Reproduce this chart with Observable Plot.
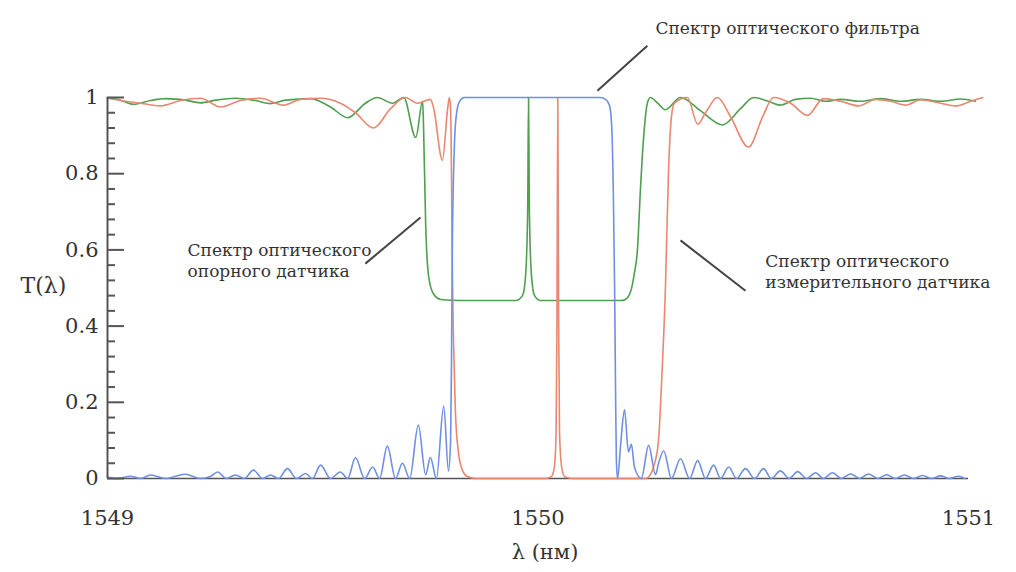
<!DOCTYPE html>
<html><head><meta charset="utf-8">
<script src="https://cdn.jsdelivr.net/npm/d3@7"></script>
<script src="https://cdn.jsdelivr.net/npm/@observablehq/plot@0.6"></script>
<style>html,body{margin:0;padding:0;background:#fff;overflow:hidden}</style>
</head><body><div id="chart"></div>
<script>
// [wavelength nm, transmission]
const filterSpectrum = [[1549.000,0.004],[1549.026,0.0],[1549.053,0.006],[1549.077,0.0],[1549.100,0.009],[1549.135,0.0],[1549.158,0.006],[1549.181,0.011],[1549.216,0.0],[1549.239,0.005],[1549.256,0.017],[1549.276,0.0],[1549.297,0.009],[1549.318,0.0],[1549.339,0.022],[1549.360,0.0],[1549.379,0.009],[1549.397,0.0],[1549.418,0.026],[1549.439,0.0],[1549.460,0.013],[1549.476,0.0],[1549.495,0.035],[1549.518,0.0],[1549.541,0.017],[1549.558,0.0],[1549.576,0.055],[1549.597,0.0],[1549.616,0.03],[1549.632,0.0],[1549.650,0.085],[1549.669,0.0],[1549.685,0.04],[1549.702,0.0],[1549.722,0.14],[1549.739,0.01],[1549.750,0.055],[1549.764,0.0],[1549.781,0.19],[1549.792,0.02],[1549.797,0.1],[1549.799,0.3],[1549.801,0.6],[1549.806,0.88],[1549.811,0.96],[1549.818,0.99],[1549.829,1.0],[1550.145,1.0],[1550.157,0.995],[1550.166,0.98],[1550.171,0.93],[1550.175,0.75],[1550.178,0.5],[1550.180,0.25],[1550.182,0.05],[1550.185,0.0],[1550.192,0.09],[1550.201,0.18],[1550.210,0.07],[1550.217,0.09],[1550.224,0.03],[1550.240,0.0],[1550.257,0.087],[1550.273,0.01],[1550.280,0.04],[1550.292,0.073],[1550.310,0.0],[1550.331,0.052],[1550.352,0.0],[1550.371,0.047],[1550.389,0.0],[1550.408,0.035],[1550.424,0.0],[1550.443,0.03],[1550.461,0.0],[1550.482,0.026],[1550.503,0.0],[1550.524,0.026],[1550.542,0.0],[1550.563,0.02],[1550.584,0.0],[1550.603,0.018],[1550.624,0.0],[1550.645,0.015],[1550.663,0.0],[1550.684,0.015],[1550.705,0.0],[1550.726,0.012],[1550.747,0.0],[1550.768,0.012],[1550.789,0.0],[1550.810,0.01],[1550.830,0.0],[1550.851,0.009],[1550.872,0.0],[1550.893,0.008],[1550.914,0.0],[1550.935,0.007],[1550.956,0.0],[1550.977,0.006],[1550.991,0.0]];

const referenceSpectrum = [[1549.000,1.0],[1549.030,0.993],[1549.060,0.982],[1549.100,0.992],[1549.135,0.997],[1549.181,0.993],[1549.216,0.986],[1549.251,0.993],[1549.297,0.998],[1549.344,0.992],[1549.379,0.984],[1549.414,0.993],[1549.472,0.997],[1549.518,0.975],[1549.558,0.947],[1549.599,0.985],[1549.627,1.0],[1549.662,0.985],[1549.688,1.0],[1549.716,0.895],[1549.732,0.99],[1549.734,0.93],[1549.739,0.67],[1549.746,0.53],[1549.757,0.485],[1549.774,0.47],[1549.820,0.467],[1549.948,0.467],[1549.964,0.48],[1549.971,0.53],[1549.976,0.7],[1549.978,1.0],[1549.980,0.7],[1549.985,0.53],[1549.992,0.48],[1550.006,0.467],[1550.192,0.467],[1550.203,0.47],[1550.215,0.49],[1550.224,0.54],[1550.231,0.6],[1550.238,0.76],[1550.245,0.89],[1550.254,0.985],[1550.261,1.0],[1550.278,0.985],[1550.296,0.968],[1550.331,1.0],[1550.378,0.965],[1550.429,0.928],[1550.470,0.97],[1550.501,1.0],[1550.535,0.99],[1550.563,0.98],[1550.598,0.995],[1550.633,0.998],[1550.668,0.99],[1550.703,0.995],[1550.749,0.99],[1550.796,0.997],[1550.842,0.99],[1550.889,0.995],[1550.935,0.99],[1550.981,0.996],[1551.016,0.99]];

const measuringSpectrum = [[1549.000,0.998],[1549.042,0.99],[1549.077,0.985],[1549.123,0.978],[1549.170,0.992],[1549.216,0.998],[1549.263,0.975],[1549.309,0.992],[1549.355,0.998],[1549.409,0.98],[1549.448,0.995],[1549.495,0.998],[1549.541,0.985],[1549.576,0.96],[1549.618,0.92],[1549.657,0.97],[1549.692,1.0],[1549.720,0.985],[1549.750,0.995],[1549.757,0.975],[1549.778,0.835],[1549.790,0.97],[1549.794,1.0],[1549.797,0.97],[1549.799,0.8],[1549.801,0.55],[1549.804,0.35],[1549.808,0.18],[1549.815,0.07],[1549.825,0.02],[1549.836,0.005],[1549.855,0.0],[1550.017,0.0],[1550.031,0.005],[1550.038,0.03],[1550.042,0.12],[1550.044,0.4],[1550.046,1.0],[1550.048,0.4],[1550.050,0.12],[1550.055,0.03],[1550.062,0.005],[1550.080,0.0],[1550.250,0.0],[1550.261,0.01],[1550.271,0.04],[1550.280,0.1],[1550.287,0.25],[1550.296,0.5],[1550.303,0.8],[1550.310,0.95],[1550.317,0.985],[1550.347,1.0],[1550.371,0.93],[1550.389,0.96],[1550.417,1.0],[1550.447,0.95],[1550.489,0.87],[1550.522,0.95],[1550.547,1.0],[1550.587,0.985],[1550.626,0.953],[1550.663,0.997],[1550.703,0.99],[1550.745,0.978],[1550.784,0.995],[1550.819,0.99],[1550.854,0.98],[1550.889,0.994],[1550.935,0.985],[1550.970,0.978],[1551.005,0.99],[1551.033,1.0]];

const xTicks = [1549, 1550, 1551];
const yTicks = [0, 0.2, 0.4, 0.6, 0.8, 1];
const yMinorTicks = [0.04,0.08,0.12,0.16,0.24,0.28,0.32,0.36,0.44,0.48,0.52,0.56,0.64,0.68,0.72,0.76,0.84,0.88,0.92,0.96];

const annotationText = ["Спектр оптического фильтра", "Спектр оптического\nопорного датчика", "Спектр оптического\nизмерительного датчика"];
const annotationX = [1550.273, 1549.186, 1550.528];
const annotationY = [1.184, 0.575, 0.545];
const pointerFrom = [[1550.254, 1.136], [1549.599, 0.564], [1550.331, 0.625]];
const pointerTo = [[1550.138, 1.018], [1549.727, 0.685], [1550.482, 0.493]];

const xLabel = "λ (нм)";
const yLabel = "T(λ)";

const font = "'DejaVu Serif', 'Liberation Serif', serif";
const annotations = annotationText.map((t, i) => ({t, x: annotationX[i], y: annotationY[i]}));
const pointers = pointerFrom.map((p, i) => ({x1: p[0], y1: p[1], x2: pointerTo[i][0], y2: pointerTo[i][1]}));
const line = (data, stroke) => Plot.line(data, {x: d => d[0], y: d => d[1], stroke, strokeWidth: 1.6, curve: "monotone-x"});

const chart = Plot.plot({
  width: 1016, height: 572,
  marginLeft: 107, marginRight: 48, marginTop: 97, marginBottom: 94,
  x: {domain: [1549, 1551]},
  y: {domain: [0, 1]},
  style: {fontFamily: font, background: "#fff", color: "#333", overflow: "visible"},
  marks: [
    Plot.ruleY([0], {x1: 1549, x2: 1551, stroke: "#555", strokeWidth: 1.5}),
    line(referenceSpectrum, "#4f9f4f"),
    line(measuringSpectrum, "#ea8770"),
    line(filterSpectrum, "#6f90e0"),
    Plot.ruleX([1549], {y1: 0, y2: 1, stroke: "#555", strokeWidth: 2}),
    Plot.ruleY(yTicks, {y: d => d, x1: 1549, x2: 1549.0395, stroke: "#555", strokeWidth: 2}),
    Plot.ruleY(yMinorTicks, {y: d => d, x1: 1549, x2: 1549.0186, stroke: "#555", strokeWidth: 2}),
    Plot.axisY(yTicks, {tickSize: 0, tickPadding: 9, fontSize: 21, label: null, tickFormat: d => String(+d.toFixed(1)), fill: "#333"}),
    Plot.axisX(xTicks, {tickSize: 0, tickPadding: 32, fontSize: 21, label: null, tickFormat: d3.format("d"), fill: "#333"}),
    Plot.text([xLabel], {text: d => d, frameAnchor: "bottom", dy: 80, dx: 7, fontSize: 21, fill: "#333"}),
    Plot.text([yLabel], {text: d => d, frameAnchor: "left", textAnchor: "middle", dx: -64, dy: -2, fontSize: 22, fill: "#333"}),
    Plot.link(pointers, {x1: "x1", y1: "y1", x2: "x2", y2: "y2", stroke: "#444", strokeWidth: 2}),
    Plot.text(annotations, {x: "x", y: "y", text: "t", textAnchor: "start", fontSize: 17, lineHeight: 1.25, fill: "#333"})
  ]
});
document.getElementById("chart").appendChild(chart);
</script>
</body></html>
